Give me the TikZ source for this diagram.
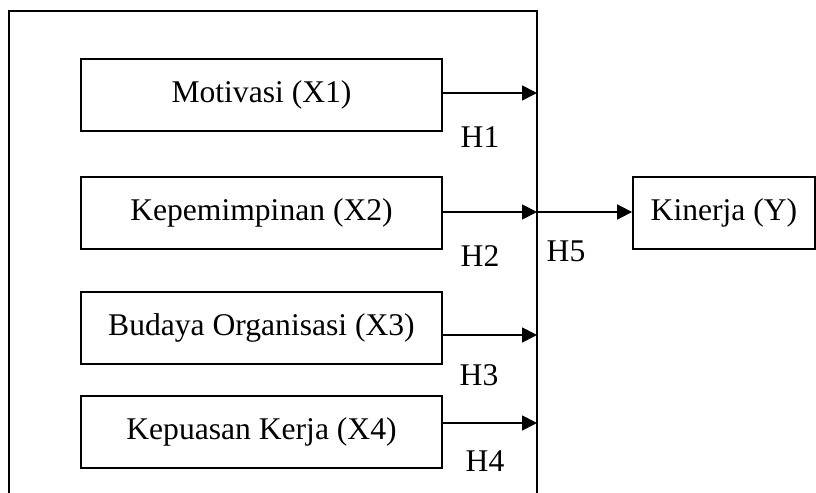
\documentclass[tikz,border=0pt]{standalone}
\usepackage{fontspec}
\setmainfont{Liberation Serif}
\usetikzlibrary{arrows.meta}
\begin{document}
\begin{tikzpicture}[x=0.5pt,y=-0.5pt,
  line width=0.9pt,
  txt/.style={font=\fontsize{15.8}{19}\selectfont},
  varbox/.style={draw, txt, inner sep=0pt, minimum width=180.5pt, minimum height=36pt},
  outbox/.style={draw, txt, inner sep=0pt, minimum width=91pt, minimum height=36pt},
  hlabel/.style={txt, inner sep=0pt},
  link/.style={-{Triangle[length=7.5pt,width=7.5pt]}}]
\useasboundingbox (0,0) rectangle (816,493);

% open frame around the independent variables
\coordinate (fbl) at (9,493);
\coordinate (ftl) at (9,11);
\coordinate (ftr) at (537,11);
\coordinate (fbr) at (537,493);
\draw (fbl) -- (ftl) -- (ftr) -- (fbr);

% variables
\node[varbox] (x1) at (261.5,95)  {Motivasi (X1)};
\node[varbox] (x2) at (261.5,213) {Kepemimpinan (X2)};
\node[varbox] (x3) at (261.5,328) {Budaya Organisasi (X3)};
\node[varbox] (x4) at (261.5,432) {Kepuasan Kerja (X4)};
\node[outbox] (y)  at (724,213)   {Kinerja (Y)};

% arrow ends on the frame
\coordinate (j1) at (537,93);
\coordinate (j2) at (537,212);
\coordinate (j3) at (537,335);
\coordinate (j4) at (537,423);

\draw[link] (x1.east |- j1) -- (j1);
\draw[link] (x2.east |- j2) -- (j2);
\draw[link] (x3.east |- j3) -- (j3);
\draw[link] (x4.east |- j4) -- (j4);
\draw[link] (j2) -- (y.west |- j2);

% hypothesis labels
\node[hlabel] (h1) at (480,137) {H1};
\node[hlabel] (h2) at (480,256) {H2};
\begin{scope}
  % the H3 text box is cut short at its lower edge
  \clip (440,355) rectangle (530,385);
  \node[hlabel] (h3) at (479,375.5) {H3};
\end{scope}
\node[hlabel] (h4) at (485,461) {H4};
\node[hlabel] (h5) at (566,251) {H5};
\end{tikzpicture}
\end{document}
